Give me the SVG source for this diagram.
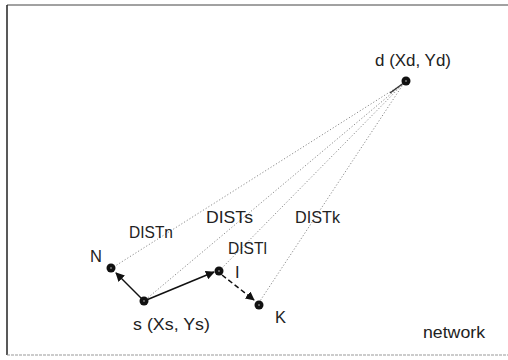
<svg xmlns="http://www.w3.org/2000/svg" width="508" height="360" viewBox="0 0 508 360">
<defs>
<marker id="ah" viewBox="0 0 10 10" refX="9" refY="5" markerWidth="9" markerHeight="9" markerUnits="userSpaceOnUse" orient="auto"><path d="M0,0 L10,5 L0,10 z" fill="#111"/></marker>
<style>
text{font-family:"Liberation Sans",Arial,sans-serif;font-size:16.5px;fill:#222}
.dot{stroke:#8a8a8a;stroke-width:1;stroke-dasharray:1.2 2;fill:none}
.arr{stroke:#111;stroke-width:1.5;fill:none}
.node{fill:#111}
.eye{fill:#777}
</style>
</defs>
<rect width="508" height="360" fill="#fff"/>
<g id="frame">
<line x1="7" y1="5" x2="508" y2="5" stroke="#444" stroke-width="1"/>
<line x1="7" y1="5" x2="7" y2="355" stroke="#222" stroke-width="1.5"/>
<line x1="7" y1="355" x2="508" y2="355" stroke="#999" stroke-width="1" stroke-dasharray="3 1"/>
</g>
<g id="connectors">
<line class="dot" x1="404" y1="83" x2="112" y2="268"/>
<line class="dot" x1="404" y1="83" x2="144" y2="301"/>
<line class="dot" x1="404" y1="83" x2="219" y2="271"/>
<line class="dot" x1="404" y1="83" x2="258" y2="304"/>
<line x1="405" y1="82" x2="390" y2="93" stroke="#333" stroke-width="1.3"/>
<line class="arr" x1="144" y1="301" x2="116" y2="273" marker-end="url(#ah)"/>
<line class="arr" x1="144" y1="301" x2="214" y2="272" marker-end="url(#ah)"/>
<line class="arr" x1="222" y1="275" x2="254" y2="300" stroke-dasharray="5 3" marker-end="url(#ah)"/>
</g>
<g id="node-d"><circle class="node" cx="406" cy="81" r="4.5"/><circle class="eye" cx="406" cy="81" r="1"/><text x="375" y="66" textLength="76" lengthAdjust="spacingAndGlyphs">d (Xd, Yd)</text></g>
<g id="node-N"><circle class="node" cx="111" cy="268" r="4.5"/><circle class="eye" cx="111" cy="268" r="1"/><text x="90" y="262">N</text></g>
<g id="node-s"><circle class="node" cx="144" cy="301" r="4.5"/><circle class="eye" cx="144" cy="301" r="1"/><text x="133" y="330" textLength="77" lengthAdjust="spacingAndGlyphs">s (Xs, Ys)</text></g>
<g id="node-I"><circle class="node" cx="219" cy="271" r="4.5"/><circle class="eye" cx="219" cy="271" r="1"/><text x="235" y="278">I</text></g>
<g id="node-K"><circle class="node" cx="259" cy="305" r="4.5"/><circle class="eye" cx="259" cy="305" r="1"/><text x="275" y="323">K</text></g>
<g id="labels">
<text x="129" y="238" textLength="44" lengthAdjust="spacingAndGlyphs">DISTn</text>
<text x="206" y="223" textLength="47" lengthAdjust="spacingAndGlyphs">DISTs</text>
<text x="295" y="223" textLength="45" lengthAdjust="spacingAndGlyphs">DISTk</text>
<text x="228" y="254" textLength="39" lengthAdjust="spacingAndGlyphs">DISTl</text>
<text x="423" y="338" textLength="62" lengthAdjust="spacingAndGlyphs">network</text>
</g>
</svg>
